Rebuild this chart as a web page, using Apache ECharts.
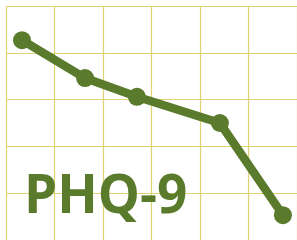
<!DOCTYPE html>
<html>
<head>
<meta charset="utf-8">
<script src="https://cdn.jsdelivr.net/npm/echarts@6/dist/echarts.min.js"></script>
<style>
  html, body { margin: 0; padding: 0; background: #fff; }
  #chart { width: 297px; height: 240px; }
</style>
</head>
<body>
<div id="chart"></div>
<script>
// data (x position in grid columns, y in grid rows)
const xValues = [0.33, 1.63, 2.70, 4.41, 5.71];
const yValues = [4.27, 3.46, 3.06, 2.50, 0.53];
const titleText = 'PHQ-9';

const olive = '#5a7a2c';
const gridColor = '#e0d272';

const points = xValues.map((x, i) => [x, yValues[i]]);

const myChart = echarts.init(document.getElementById('chart'));
myChart.setOption({
    animation: false,
    title: {
        text: titleText,
        left: 19,
        top: 166,
        textStyle: {
            color: olive,
            fontFamily: 'Open Sans',
            fontWeight: 'bold',
            fontSize: 53,
        },
    },
    grid: { left: 6, top: 6, right: 0, bottom: 0 },
    xAxis: {
        type: 'value',
        min: 0,
        max: 6,
        interval: 1,
        axisLine: { show: false },
        axisTick: { show: false },
        axisLabel: { show: false },
        splitLine: { show: true, lineStyle: { color: gridColor, width: 1.2 } },
    },
    yAxis: {
        type: 'value',
        min: 0,
        max: 5,
        interval: 1,
        axisLine: { show: false },
        axisTick: { show: false },
        axisLabel: { show: false },
        splitLine: { show: true, lineStyle: { color: gridColor, width: 1.2 } },
    },
    series: [
        {
            type: 'line',
            data: points,
            symbol: 'circle',
            symbolSize: 18,
            itemStyle: { color: olive },
            lineStyle: { color: olive, width: 8.5 },
        },
    ],
});
</script>
</body>
</html>
